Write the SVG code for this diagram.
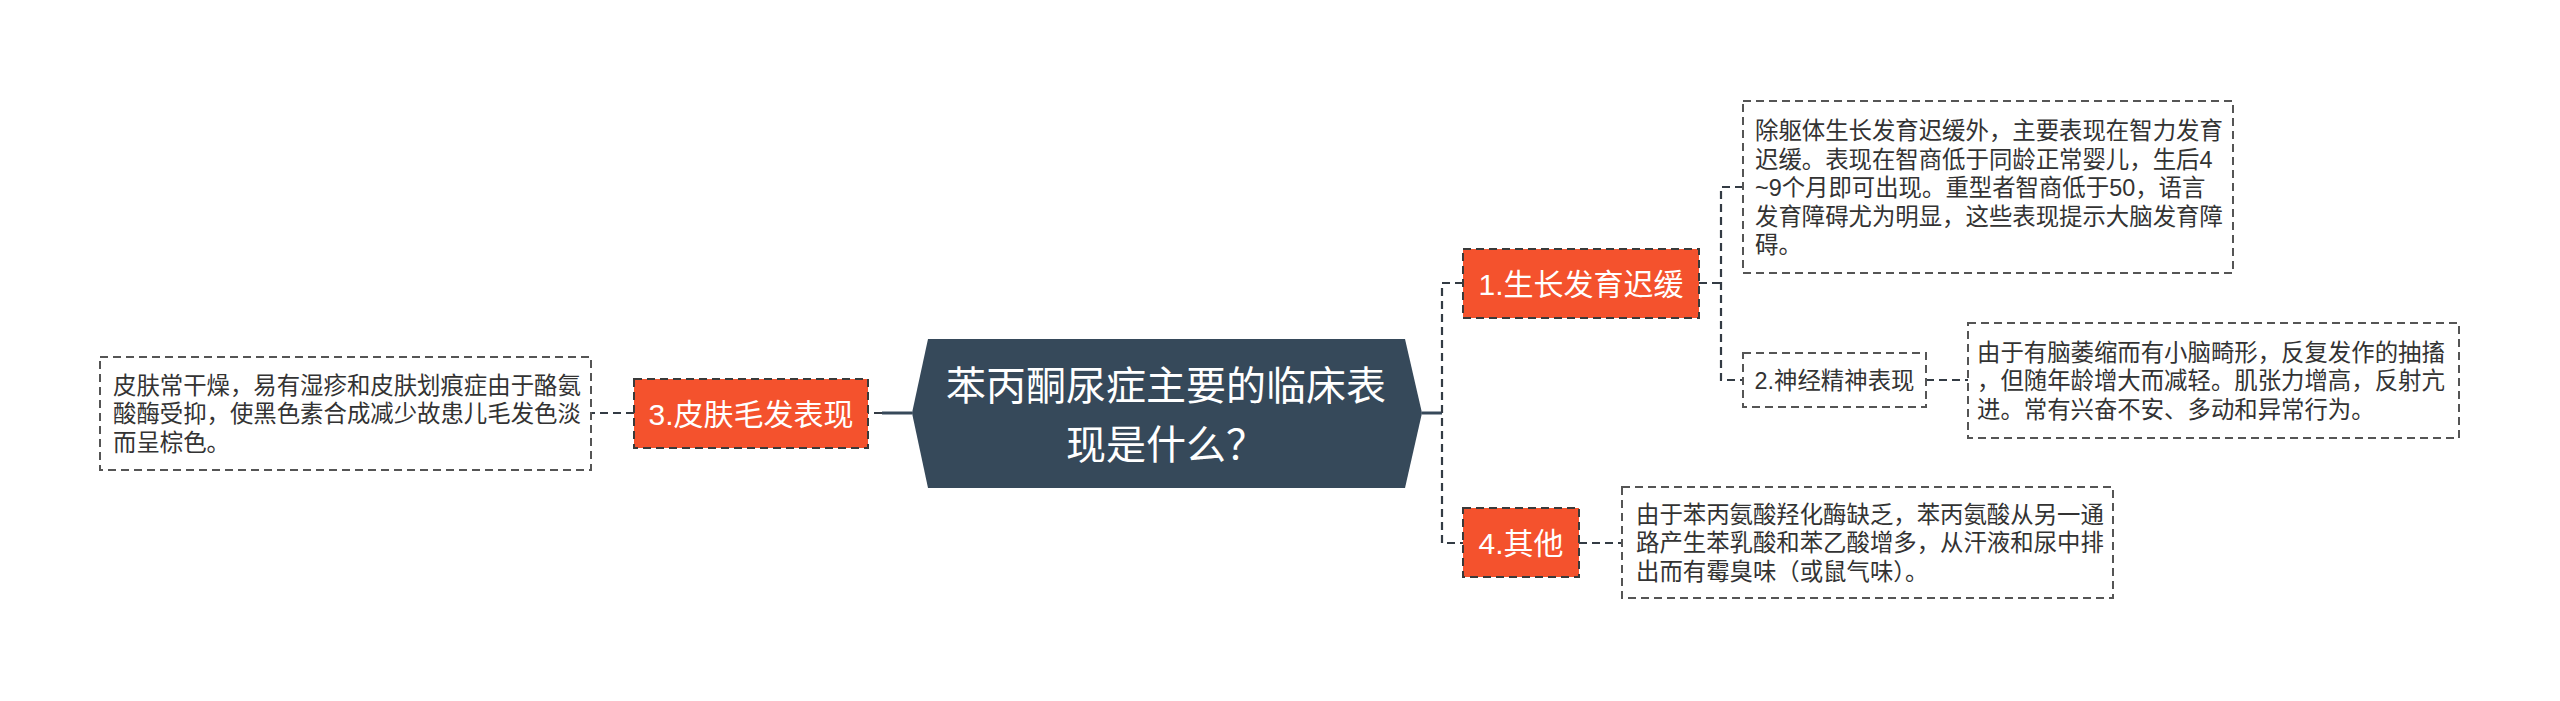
<svg xmlns="http://www.w3.org/2000/svg" width="2560" height="701" viewBox="0 0 2560 701">
<style>
.bg{fill:#ffffff}
.dash{fill:none;stroke:#333b44;stroke-width:2.2;stroke-dasharray:8 5}
.solid{fill:none;stroke:#37495a;stroke-width:3}
.root{fill:#36495a}
.main{fill:#f4522d;stroke:#3a3a3a;stroke-width:2;stroke-dasharray:8 5}
.sub{fill:#ffffff;stroke:#555555;stroke-width:2;stroke-dasharray:8 5}
.t{font-family:"Liberation Sans","Noto Sans CJK SC",sans-serif}
.rt{font-size:40px;fill:#ffffff}
.mt{font-size:30px;fill:#ffffff}
.st{font-size:23.4px;fill:#333333}
</style>
<rect class="bg" x="0" y="0" width="2560" height="701"/>
<g id="connectors">
<path class="solid" d="M912,413 H882"/>
<path class="dash" d="M882,413 H868"/>
<path class="dash" d="M634,413 H591"/>
<path class="solid" d="M1422,413 H1442"/>
<path class="dash" d="M1463,283 H1442 V543 H1463"/>
<path class="dash" d="M1699,283 H1721"/>
<path class="dash" d="M1743,187 H1721 V380 H1743"/>
<path class="dash" d="M1926,380 H1968"/>
<path class="dash" d="M1579,543 H1622"/>
</g>
<g id="root">
<polygon class="root" points="912,413 928,339 1405,339 1422,413 1405,488 928,488"/>
<text class="t rt" x="1166" y="400" text-anchor="middle">苯丙酮尿症主要的临床表</text>
<text class="t rt" x="1166" y="459" text-anchor="middle">现是什么？</text>
</g>
<g id="node1">
<rect class="main" x="1463" y="249" width="236" height="69"/>
<text class="t mt" x="1581" y="295" text-anchor="middle">1.生长发育迟缓</text>
</g>
<g id="node1-detail">
<rect class="sub" x="1743" y="101" width="490" height="172"/>
<text class="t st" x="1755" y="139">除躯体生长发育迟缓外，主要表现在智力发育</text>
<text class="t st" x="1755" y="167.5">迟缓。表现在智商低于同龄正常婴儿，生后4</text>
<text class="t st" x="1755" y="196">~9个月即可出现。重型者智商低于50，语言</text>
<text class="t st" x="1755" y="224.5">发育障碍尤为明显，这些表现提示大脑发育障</text>
<text class="t st" x="1755" y="253">碍。</text>
</g>
<g id="node2">
<rect class="sub" x="1743" y="353" width="183" height="54"/>
<text class="t st" x="1834.5" y="389" text-anchor="middle">2.神经精神表现</text>
</g>
<g id="node2-detail">
<rect class="sub" x="1968" y="323" width="491" height="115"/>
<text class="t st" x="1977" y="360.5">由于有脑萎缩而有小脑畸形，反复发作的抽搐</text>
<text class="t st" x="1977" y="389">，但随年龄增大而减轻。肌张力增高，反射亢</text>
<text class="t st" x="1977" y="417.5">进。常有兴奋不安、多动和异常行为。</text>
</g>
<g id="node3">
<rect class="main" x="634" y="379" width="234" height="69"/>
<text class="t mt" x="751" y="424.5" text-anchor="middle">3.皮肤毛发表现</text>
</g>
<g id="node3-detail">
<rect class="sub" x="100" y="357" width="491" height="113"/>
<text class="t st" x="113" y="393.5">皮肤常干燥，易有湿疹和皮肤划痕症由于酪氨</text>
<text class="t st" x="113" y="422">酸酶受抑，使黑色素合成减少故患儿毛发色淡</text>
<text class="t st" x="113" y="450.5">而呈棕色。</text>
</g>
<g id="node4">
<rect class="main" x="1463" y="508" width="116" height="69"/>
<text class="t mt" x="1521" y="554" text-anchor="middle">4.其他</text>
</g>
<g id="node4-detail">
<rect class="sub" x="1622" y="487" width="491" height="111"/>
<text class="t st" x="1636" y="522.5">由于苯丙氨酸羟化酶缺乏，苯丙氨酸从另一通</text>
<text class="t st" x="1636" y="551">路产生苯乳酸和苯乙酸增多，从汗液和尿中排</text>
<text class="t st" x="1636" y="579.5">出而有霉臭味（或鼠气味）。</text>
</g>
</svg>
